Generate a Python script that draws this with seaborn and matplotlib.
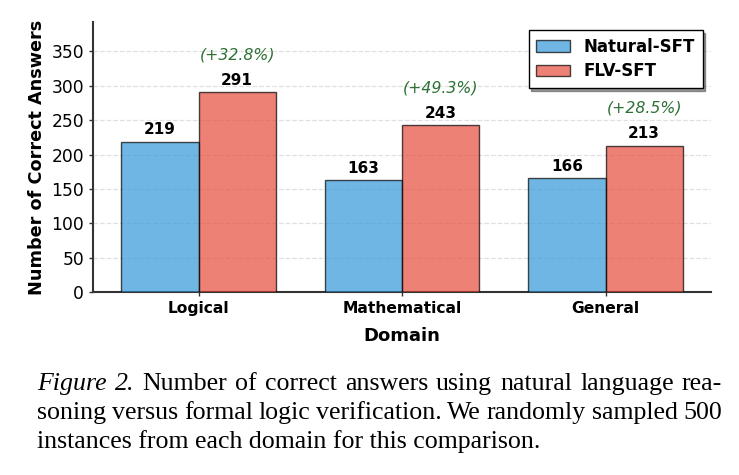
import numpy as np
import pandas as pd
import matplotlib
matplotlib.use("Agg")
import matplotlib.pyplot as plt
import seaborn as sns

# data
domains = ["Logical", "Mathematical", "General"]
natural_sft = [219, 163, 166]
flv_sft = [291, 243, 213]
gain_labels = ["(+32.8%)", "(+49.3%)", "(+28.5%)"]
methods = ["Natural-SFT", "FLV-SFT"]

caption_lines = [
    "Number of correct answers using natural language rea-",
    "soning versus formal logic verification. We randomly sampled 500",
    "instances from each domain for this comparison.",
]

df = pd.DataFrame({
    "Domain": domains * 2,
    "Method": [methods[0]] * 3 + [methods[1]] * 3,
    "Count": natural_sft + flv_sft,
})

sns.set_style("white")
plt.rcParams["font.family"] = ["DejaVu Sans"]
plt.rcParams["text.color"] = "black"
plt.rcParams["axes.labelcolor"] = "black"
plt.rcParams["xtick.color"] = "black"
plt.rcParams["ytick.color"] = "black"

fig = plt.figure(figsize=(7.39, 4.75), dpi=100)
ax = fig.add_axes([0.126, 0.385, 0.836, 0.569])

sns.barplot(data=df, x="Domain", y="Count", hue="Method", order=domains,
            hue_order=methods, palette=["#3498db", "#e74c3c"], alpha=0.7,
            saturation=1, edgecolor="black", linewidth=1, width=0.76,
            ax=ax, zorder=3)

# value labels and relative gains
for i, c in enumerate(ax.containers):
    vals = natural_sft if i == 0 else flv_sft
    for j, bar in enumerate(c):
        v = vals[j]
        x = bar.get_x() + bar.get_width() / 2
        ax.annotate(str(v), (x, v), xytext=(0, 3), textcoords="offset points",
                    ha="center", va="bottom", fontsize=11, fontweight="bold")
        if i == 1:
            ax.annotate(gain_labels[j], (x, v), xytext=(0, 21.5),
                        textcoords="offset points", ha="center", va="bottom",
                        fontsize=11.3, fontstyle="italic", color="#2e7035")

ax.set_xlim(-0.518, 2.518)
ax.set_ylim(0, 393)
ax.set_yticks(np.arange(0, 351, 50))
ax.grid(axis="y", linestyle="--", color="#e0e0e0", linewidth=0.9, zorder=0)
ax.set_axisbelow(True)
for s in ["top", "right"]:
    ax.spines[s].set_visible(False)
for s in ["left", "bottom"]:
    ax.spines[s].set_color("#333333")
    ax.spines[s].set_linewidth(1.5)
ax.tick_params(axis="y", labelsize=12.3, length=3, width=1, color="#333333", left=True)
ax.tick_params(axis="x", labelsize=11.2, length=3, width=1, color="#333333", bottom=True)
for t in ax.get_xticklabels():
    t.set_fontweight("bold")
ax.set_xlabel("Domain", fontsize=13, fontweight="bold", labelpad=8)
ax.set_ylabel("Number of Correct Answers", fontsize=12.7, fontweight="bold")

leg = ax.legend(loc="upper right", shadow={"color": "#555555", "alpha": 0.6},
                fancybox=False, frameon=True, edgecolor="black",
                prop={"weight": "bold", "size": 12}, borderpad=0.45,
                handlelength=2.0, handletextpad=0.85, labelspacing=0.4)
leg.get_frame().set_linewidth(1.0)

# caption below the chart, justified like the paper
cap_font = "Liberation Serif"
cap_size = 18.6
W = fig.bbox.width
H = fig.bbox.height
fig.canvas.draw()
r = fig.canvas.get_renderer()


def justified(words, x0, x1, y, styles):
    items = []
    total = 0
    for w, st in zip(words, styles):
        t = fig.text(0, y, w, family=cap_font, style=st, fontsize=cap_size,
                     va="baseline")
        wd = t.get_window_extent(r).width
        items.append((t, wd))
        total += wd
    gap = (x1 - x0 - total) / (len(words) - 1)
    x = x0
    for t, wd in items:
        t.set_x(x / W)
        x += wd + gap


x_left, x_right = 37, 722
w1 = ["Figure", "2."] + caption_lines[0].split()
justified(w1, x_left, x_right, 1 - 390 / H,
          ["italic", "italic"] + ["normal"] * (len(w1) - 2))
w2 = caption_lines[1].split()
justified(w2, x_left, x_right, 1 - 419 / H, ["normal"] * len(w2))
fig.text(x_left / W, 1 - 448 / H, caption_lines[2], family=cap_font,
         fontsize=cap_size, va="baseline")

fig.savefig("out.png", dpi=100)
